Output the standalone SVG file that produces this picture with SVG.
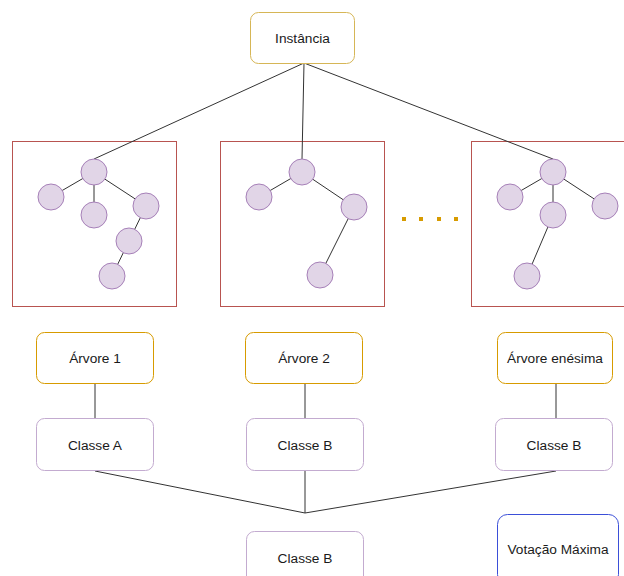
<svg xmlns="http://www.w3.org/2000/svg" width="624" height="576" viewBox="0 0 624 576">
<style>
.t{font-family:"Liberation Sans",Arial,sans-serif;font-size:13.7px;fill:#1a1a1a;text-anchor:middle;dominant-baseline:central}
.inst{fill:#fff;stroke:#d6b656;stroke-width:1}
.arv{fill:#fff;stroke:#d79b00;stroke-width:1}
.cls{fill:#fff;stroke:#c3abd0;stroke-width:1}
.vot{fill:#fff;stroke:#3b4fd8;stroke-width:1}
.frame{fill:none;stroke:#b85450;stroke-width:1}
.n{fill:#e1d5e7;stroke:#a680b8;stroke-width:1}
.e{stroke:#333;stroke-width:1;fill:none}
.dot{fill:#d79b00}
</style>
<rect width="624" height="576" fill="#fff"/>
<g id="frames">
<rect class="frame" x="12.5" y="141.5" width="164" height="165"/>
<rect class="frame" x="220.5" y="141.5" width="164" height="165"/>
<rect class="frame" x="471.5" y="141.5" width="164" height="165"/>
</g>
<g id="connectors">
<line class="e" x1="304" y1="63" x2="94" y2="159"/>
<line class="e" x1="304" y1="63" x2="302" y2="159"/>
<line class="e" x1="304" y1="63" x2="553" y2="159"/>
<line class="e" x1="94" y1="172" x2="51" y2="197"/>
<line class="e" x1="94" y1="172" x2="94" y2="215"/>
<line class="e" x1="94" y1="172" x2="146" y2="206"/>
<line class="e" x1="146" y1="206" x2="129" y2="241"/>
<line class="e" x1="129" y1="241" x2="112" y2="276"/>
<line class="e" x1="302" y1="172" x2="259" y2="197"/>
<line class="e" x1="302" y1="172" x2="354" y2="207"/>
<line class="e" x1="354" y1="207" x2="320" y2="275"/>
<line class="e" x1="553" y1="172" x2="510" y2="197"/>
<line class="e" x1="553" y1="172" x2="553" y2="215"/>
<line class="e" x1="553" y1="172" x2="605" y2="206"/>
<line class="e" x1="553" y1="215" x2="527" y2="276"/>
<line class="e" x1="95" y1="384" x2="95" y2="418"/>
<line class="e" x1="305" y1="384" x2="305" y2="418"/>
<line class="e" x1="556" y1="384" x2="556" y2="418"/>
<line class="e" x1="95" y1="471" x2="305" y2="513"/>
<line class="e" x1="305" y1="471" x2="305" y2="513"/>
<line class="e" x1="556" y1="471" x2="305" y2="513"/>
</g>
<g id="tree1">
<circle class="n" cx="94" cy="172" r="13"/>
<circle class="n" cx="51" cy="197" r="13"/>
<circle class="n" cx="94" cy="215" r="13"/>
<circle class="n" cx="146" cy="206" r="13"/>
<circle class="n" cx="129" cy="241" r="13"/>
<circle class="n" cx="112" cy="276" r="13"/>
</g>
<g id="tree2">
<circle class="n" cx="302" cy="172" r="13"/>
<circle class="n" cx="259" cy="197" r="13"/>
<circle class="n" cx="354" cy="207" r="13"/>
<circle class="n" cx="320" cy="275" r="13"/>
</g>
<g id="tree3">
<circle class="n" cx="553" cy="172" r="13"/>
<circle class="n" cx="510" cy="197" r="13"/>
<circle class="n" cx="553" cy="215" r="13"/>
<circle class="n" cx="605" cy="206" r="13"/>
<circle class="n" cx="527" cy="276" r="13"/>
</g>
<g id="dots">
<rect class="dot" x="402" y="217" width="4" height="4"/>
<rect class="dot" x="419" y="217" width="4" height="4"/>
<rect class="dot" x="437" y="217" width="4" height="4"/>
<rect class="dot" x="454" y="217" width="4" height="4"/>
</g>
<g id="instancia">
<rect class="inst" x="250.5" y="12.5" width="104" height="51" rx="8"/>
<text class="t" x="302.5" y="38">Instância</text>
</g>
<g id="arvore1">
<rect class="arv" x="36.5" y="332.5" width="117" height="51" rx="8"/>
<text class="t" x="95" y="358">Árvore 1</text>
</g>
<g id="arvore2">
<rect class="arv" x="245.5" y="332.5" width="117" height="51" rx="8"/>
<text class="t" x="304" y="358">Árvore 2</text>
</g>
<g id="arvoreN">
<rect class="arv" x="497.5" y="332.5" width="115" height="51" rx="8"/>
<text class="t" x="555" y="358">Árvore enésima</text>
</g>
<g id="classeA">
<rect class="cls" x="36.5" y="418.5" width="117" height="52" rx="8"/>
<text class="t" x="95" y="445">Classe A</text>
</g>
<g id="classeB1">
<rect class="cls" x="246.5" y="418.5" width="117" height="52" rx="8"/>
<text class="t" x="305" y="445">Classe B</text>
</g>
<g id="classeB2">
<rect class="cls" x="495.5" y="418.5" width="117" height="52" rx="8"/>
<text class="t" x="554" y="445">Classe B</text>
</g>
<g id="classeFinal">
<rect class="cls" x="246.5" y="531.5" width="117" height="60" rx="8"/>
<text class="t" x="305" y="558">Classe B</text>
</g>
<g id="votacao">
<rect class="vot" x="497.5" y="514.5" width="121" height="70" rx="10"/>
<text class="t" x="558" y="549">Votação Máxima</text>
</g>
</svg>
